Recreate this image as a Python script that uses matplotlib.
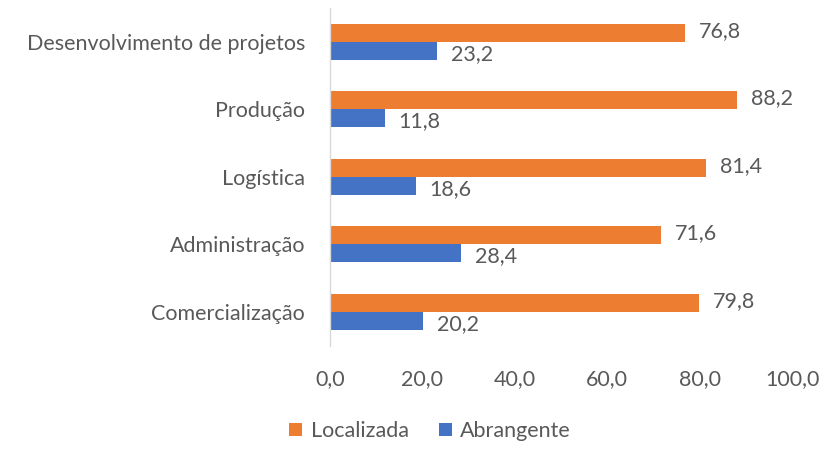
import matplotlib
matplotlib.use("Agg")
import matplotlib.pyplot as plt
import numpy as np

categories = ["Comercialização", "Administração", "Logística", "Produção", "Desenvolvimento de projetos"]
localizada = [79.8, 71.6, 81.4, 88.2, 76.8]
abrangente = [20.2, 28.4, 18.6, 11.8, 23.2]
xticks = [0, 20, 40, 60, 80, 100]

ORANGE = "#ED7D31"
BLUE = "#4472C4"
TXT = "#595959"
FS = 15.5

plt.rcParams['font.family'] = ['Lato', 'DejaVu Sans']

fig = plt.figure(figsize=(8.33, 4.54), dpi=100)
H = 454
W = 833
ax = fig.add_axes([330 / W, 1 - 345.5 / H, (792 - 330) / W, (345.5 - 8) / H])

y = np.arange(len(categories))
h = 0.265
b1 = ax.barh(y + h / 2, localizada, height=h, color=ORANGE, label="Localizada")
b2 = ax.barh(y - h / 2, abrangente, height=h, color=BLUE, label="Abrangente")

for yi, v in zip(y, localizada):
    ax.text(v + 3.0, yi + h / 2 + 0.03, f"{v:.1f}".replace(".", ","), va="center", ha="left",
            fontsize=FS, color=TXT)
for yi, v in zip(y, abrangente):
    ax.text(v + 3.0, yi - h / 2 - 0.05, f"{v:.1f}".replace(".", ","), va="center", ha="left",
            fontsize=FS, color=TXT)

ax.set_xlim(0, 100)
ax.set_ylim(-0.5, 4.5)
ax.set_yticks(y)
ax.set_yticklabels(categories, fontsize=FS, color=TXT)
ax.set_xticks(xticks)
ax.set_xticklabels([f"{t:.1f}".replace(".", ",") for t in xticks], fontsize=FS, color=TXT)
ax.tick_params(axis="y", length=0, pad=18)
ax.tick_params(axis="x", length=0, pad=17)
for s in ["top", "right", "bottom"]:
    ax.spines[s].set_visible(False)
ax.spines["left"].set_color("#D9D9D9")
ax.spines["left"].set_linewidth(1.0)

fig.legend(handles=[b1, b2], labels=["Localizada", "Abrangente"], loc="center",
           bbox_to_anchor=(430 / W, 1 - 431 / H), ncol=2, frameon=False,
           fontsize=FS, labelcolor=TXT, handlelength=0.6, handleheight=0.6,
           handletextpad=0.4, columnspacing=1.4)

fig.savefig("out.png", dpi=100)
